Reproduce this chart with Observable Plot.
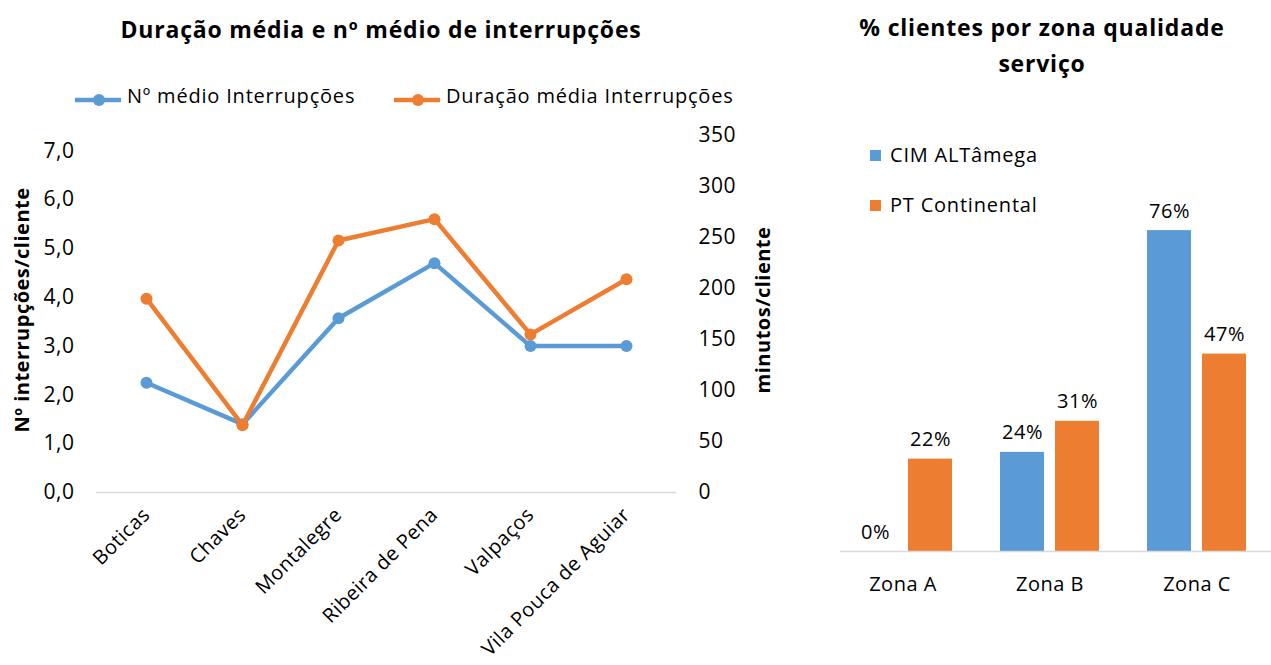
<!DOCTYPE html>
<html><head><meta charset="utf-8">
<script src="https://cdn.jsdelivr.net/npm/d3@7"></script>
<script src="https://cdn.jsdelivr.net/npm/@observablehq/plot@0.6"></script>
<style>
body{margin:0;background:#fff;font-family:"Open Sans",sans-serif;color:#000;}
#wrap{position:relative;width:1271px;height:665px;overflow:hidden;background:#fff;}
.abs{position:absolute;white-space:nowrap;line-height:1;}
.plot{position:absolute;top:0;}
.title{font-weight:700;font-size:23px;letter-spacing:0.8px;text-align:center;}
.leg{font-size:20px;letter-spacing:0.8px;}
</style></head><body><div id="wrap"></div>
<script>
// ---- data ----
const municipios = ["Boticas","Chaves","Montalegre","Ribeira de Pena","Valpaços","Vila Pouca de Aguiar"];
const nInterrupcoes = [2.25, 1.40, 3.57, 4.70, 3.00, 3.00];
const duracaoMinutos = [190, 66, 247, 268, 155, 209];
const leftTicks = [0,1,2,3,4,5,6,7];
const rightTicks = [0,50,100,150,200,250,300,350];
const zonas = ["Zona A","Zona B","Zona C"];
const cimAltamega = [0, 23.6, 76.4];
const ptContinental = [22, 31, 47];

const BLUE = "#5B9BD5", ORANGE = "#ED7D31", GRID = "#d9d9d9";
const wrap = document.getElementById("wrap");
function add(html, style, cls){const d=document.createElement("div");d.className="abs "+(cls||"");d.innerHTML=html;Object.assign(d.style,style);wrap.appendChild(d);return d;}

// ---- left chart ----
const K = 7.316/350; // minutes -> left-axis units
const lineData = municipios.map((m,i)=>({m, n:nInterrupcoes[i], d:duracaoMinutos[i]}));
const left = Plot.plot({
  width: 780, height: 665,
  marginLeft: 96, marginRight: 104, marginTop: 135, marginBottom: 173,
  style: {fontFamily:"Open Sans", fontSize:"21px", letterSpacing:"0.5px", color:"#000", background:"transparent", overflow:"visible"},
  x: {type:"point", domain: municipios, padding: 0.5},
  y: {domain:[0, 350*K]},
  marks: [
    Plot.ruleY([0], {stroke:GRID, strokeWidth:1.5}),
    Plot.axisY(leftTicks, {anchor:"left", tickSize:0, tickPadding:22, label:null, tickFormat:d=>d.toFixed(1).replace(".",",")}),
    Plot.axisY(rightTicks.map(d=>d*K), {anchor:"right", tickSize:0, tickPadding:22, label:null, textAnchor:"start", tickFormat:d=>String(Math.round(d/K))}),
    Plot.axisX({tickRotate:-45, tickSize:0, tickPadding:19, label:null, fontSize:20}),
    Plot.line(lineData, {x:"m", y:"n", stroke:BLUE, strokeWidth:4.5}),
    Plot.dot(lineData, {x:"m", y:"n", fill:BLUE, r:6}),
    Plot.line(lineData, {x:"m", y:d=>d.d*K, stroke:ORANGE, strokeWidth:4.5}),
    Plot.dot(lineData, {x:"m", y:d=>d.d*K, fill:ORANGE, r:6})
  ]
});
left.classList.add("plot"); left.style.left="0px";
wrap.appendChild(left);

// ---- right chart ----
const barBlue = zonas.map((z,i)=>({z, v:cimAltamega[i]}));
const barOrange = zonas.map((z,i)=>({z, v:ptContinental[i]}));
const right = Plot.plot({
  width: 431, height: 665,
  marginLeft: 0, marginRight: 0, marginTop: 131, marginBottom: 114,
  style: {fontFamily:"Open Sans", fontSize:"20px", letterSpacing:"0.5px", color:"#000", background:"transparent", overflow:"visible"},
  x: {domain: zonas, insetLeft:12.5, insetRight:24.5, paddingInner:0.3265, paddingOuter:0},
  y: {domain:[0,100], axis:null},
  marks: [
    Plot.barY(barBlue, {x:"z", y:"v", fill:BLUE, insetRight:55}),
    Plot.barY(barOrange, {x:"z", y:"v", fill:ORANGE, insetLeft:55}),
    Plot.text(barBlue, {x:"z", y:"v", text:d=>Math.round(d.v)+"%", dx:-27.5, dy:-13, lineAnchor:"bottom", fontSize:20}),
    Plot.text(barOrange, {x:"z", y:"v", text:d=>Math.round(d.v)+"%", dx:27.5, dy:-13, lineAnchor:"bottom", fontSize:20}),
    Plot.ruleY([0], {stroke:GRID, strokeWidth:1.5}),
    Plot.axisX({tickSize:0, tickPadding:25, label:null})
  ]
});
right.classList.add("plot"); right.style.left="840px";
wrap.appendChild(right);

// ---- titles & legends ----
add("Duração média e nº médio de interrupções", {left:"0px", width:"762px", top:"18px"}, "title");
add("% clientes por zona qualidade<br><span style='display:inline-block;margin-top:13px'>serviço</span>", {left:"840px", width:"404px", top:"16px"}, "title");

function lineSwatch(color){return `<svg width="46" height="14" style="vertical-align:middle"><line x1="0" y1="7" x2="46" y2="7" stroke="${color}" stroke-width="4.5"/><circle cx="24" cy="7" r="6" fill="${color}"/></svg>`;}
add(lineSwatch(BLUE), {left:"75px", top:"90px"});
add("Nº médio Interrupções", {left:"127px", top:"86px"}, "leg");
add(lineSwatch(ORANGE), {left:"394px", top:"90px"});
add("Duração média Interrupções", {left:"446px", top:"86px"}, "leg");

add("Nº interrupções/cliente", {left:"22px", top:"310px", transform:"translate(-50%,-50%) rotate(-90deg)", fontWeight:"700", fontSize:"20px", letterSpacing:"0.5px"});
add("minutos/cliente", {left:"763px", top:"310px", transform:"translate(-50%,-50%) rotate(-90deg)", fontWeight:"700", fontSize:"20px", letterSpacing:"0.5px"});

add(`<span style="display:inline-block;width:11px;height:11px;background:${BLUE};margin-right:9px;vertical-align:1px"></span>CIM ALTâmega`, {left:"870px", top:"145px"}, "leg");
add(`<span style="display:inline-block;width:11px;height:11px;background:${ORANGE};margin-right:9px;vertical-align:1px"></span>PT Continental`, {left:"870px", top:"195px"}, "leg");
</script></body></html>
